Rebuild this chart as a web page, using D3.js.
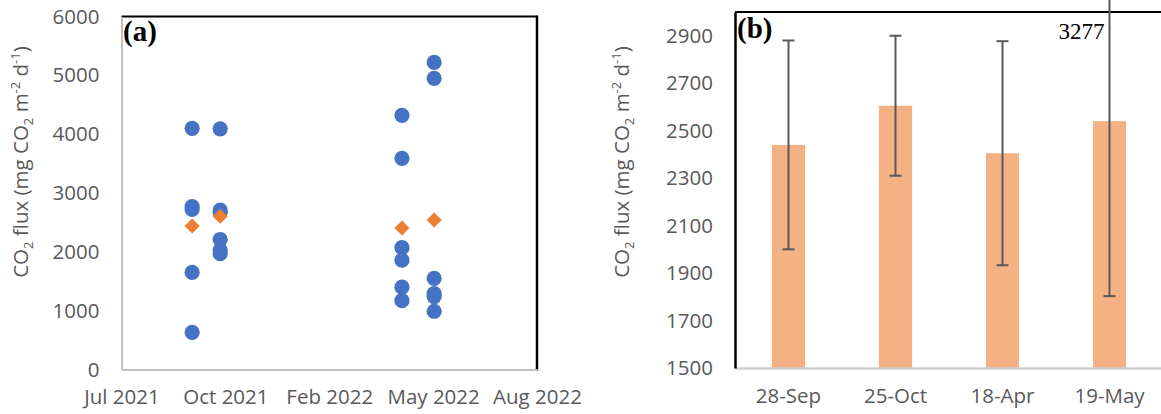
<!DOCTYPE html>
<html><head><meta charset="utf-8">
<script src="https://cdn.jsdelivr.net/npm/d3@7"></script>
<style>body{margin:0;background:#fff}svg{display:block}</style>
</head><body>
<svg id="c" width="1161" height="414"></svg>
<script>
// ---- data ----
const sampleDates = ["2021-09-28","2021-10-25","2022-04-18","2022-05-19"];
const fluxSep28 = [4100, 2770, 2720, 1650, 630];
const fluxOct25 = [4090, 2710, 2670, 2210, 2030, 1970];
const fluxApr18 = [4320, 3590, 2070, 1860, 1400, 1170];
const fluxMay19 = [5220, 4950, 1550, 1290, 1240, 990];
const meanFlux = [2440, 2605, 2405, 2540];
const errFlux = [440, 295, 472, 737];
const barCategories = ["28-Sep","25-Oct","18-Apr","19-May"];
const timeTickDates = ["2021-07-22","2021-10-30","2022-02-07","2022-05-18","2022-08-26"];
const yTicksA = [0,1000,2000,3000,4000,5000,6000];
const yTicksB = [1500,1700,1900,2100,2300,2500,2700,2900];
const overflowLabel = "3277";

const svg = d3.select("#c");
const parse = d3.utcParse("%Y-%m-%d");
const axisFont = "'Open Sans', sans-serif";
const gray = "#595959";
const fs = 20.5;

function yTitle(g, x, y){
  const t = g.append("text").attr("transform",`translate(${x},${y}) rotate(-90)`)
    .attr("text-anchor","middle").attr("font-family",axisFont).attr("font-size",fs).attr("fill",gray);
  t.append("tspan").text("CO");
  t.append("tspan").attr("font-size",13).attr("dy",5).text("2");
  t.append("tspan").attr("dy",-5).text(" flux (mg CO");
  t.append("tspan").attr("font-size",13).attr("dy",5).text("2");
  t.append("tspan").attr("dy",-5).text(" m");
  t.append("tspan").attr("font-size",13).attr("dy",-8).text("-2");
  t.append("tspan").attr("dy",8).text(" d");
  t.append("tspan").attr("font-size",13).attr("dy",-8).text("-1");
  t.append("tspan").attr("dy",8).text(")");
}

// ---- panel (a) ----
const A = {l:121.5, r:537, t:16.5, b:369.5};
const x = d3.scaleUtc().domain([parse(timeTickDates[0]), parse(timeTickDates[4])]).range([A.l, A.r]);
const yA = d3.scaleLinear().domain([0,6000]).range([A.b, A.t]);
const gA = svg.append("g");

gA.append("line").attr("x1",A.l).attr("x2",A.r).attr("y1",A.t).attr("y2",A.t).attr("stroke","#000").attr("stroke-width",2);
gA.append("line").attr("x1",A.r).attr("x2",A.r).attr("y1",A.t-1).attr("y2",A.b+1).attr("stroke","#000").attr("stroke-width",2.5);

const axA = gA.append("g").attr("transform",`translate(0,${A.b})`)
  .call(d3.axisBottom(x).tickValues(timeTickDates.map(parse)).tickFormat(d3.utcFormat("%b %Y")).tickSize(0).tickPadding(20));
axA.select(".domain").attr("stroke","#BFBFBF").attr("stroke-width",2);
axA.selectAll("text").attr("font-family",axisFont).attr("font-size",fs).attr("fill",gray);

const ayA = gA.append("g").attr("transform",`translate(${A.l},0)`)
  .call(d3.axisLeft(yA).tickValues(yTicksA).tickFormat(d3.format("d")).tickSize(0).tickPadding(22));
ayA.select(".domain").attr("stroke","#BFBFBF").attr("stroke-width",2);
ayA.selectAll("text").attr("font-family",axisFont).attr("font-size",fs).attr("fill",gray);

const groups = [fluxSep28, fluxOct25, fluxApr18, fluxMay19];
groups.forEach((vals,i)=>{
  gA.selectAll(null).data(vals).enter().append("circle")
    .attr("cx",x(parse(sampleDates[i]))).attr("cy",d=>yA(d)).attr("r",7.6).attr("fill","#4472C4");
});
gA.selectAll(".mean").data(meanFlux).enter().append("path")
  .attr("d",(d,i)=>{const cx=x(parse(sampleDates[i])), cy=yA(d), s=7.5;
     return `M${cx},${cy-s}L${cx+s},${cy}L${cx},${cy+s}L${cx-s},${cy}Z`;})
  .attr("fill","#ED7D31");

gA.append("text").attr("x",123).attr("y",41).attr("font-family","'Liberation Serif', serif")
  .attr("font-weight","bold").attr("font-size",29).attr("fill","#000").text("(a)");
yTitle(gA, 28, 162);

// ---- panel (b) ----
const B = {l:735, r:1163, t:12, b:368};
const xb = d3.scaleBand().domain(barCategories).range([B.l, B.r]).paddingInner(0.69).paddingOuter(0.345);
const yB = d3.scaleLinear().domain([1500,3000]).range([B.b, B.t]);
const gB = svg.append("g");

gB.selectAll(".bar").data(meanFlux).enter().append("rect")
  .attr("x",(d,i)=>xb(barCategories[i])).attr("width",xb.bandwidth())
  .attr("y",d=>yB(d)).attr("height",d=>B.b-yB(d)).attr("fill","#F4B183");

gB.append("line").attr("x1",B.l).attr("x2",B.r).attr("y1",B.t).attr("y2",B.t).attr("stroke","#000").attr("stroke-width",2);

const axB = gB.append("g").attr("transform",`translate(0,${B.b})`)
  .call(d3.axisBottom(xb).tickSize(0).tickPadding(20));
axB.select(".domain").attr("stroke","#D0D0D0").attr("stroke-width",2.5);
axB.selectAll("text").attr("font-family",axisFont).attr("font-size",fs).attr("fill",gray);

const ayB = gB.append("g").attr("transform",`translate(${B.l},0)`)
  .call(d3.axisLeft(yB).tickValues(yTicksB).tickFormat(d3.format("d")).tickSize(0).tickPadding(22));
ayB.select(".domain").attr("stroke","#000").attr("stroke-width",2.5);
ayB.selectAll("text").attr("font-family",axisFont).attr("font-size",fs).attr("fill",gray);

const eb = gB.selectAll(".err").data(meanFlux).enter().append("g")
  .attr("transform",(d,i)=>`translate(${xb(barCategories[i])+xb.bandwidth()/2},0)`);
eb.append("line").attr("y1",(d,i)=>yB(d+errFlux[i])).attr("y2",(d,i)=>yB(d-errFlux[i])).attr("stroke","#595959").attr("stroke-width",2);
eb.append("line").attr("x1",-6).attr("x2",6).attr("y1",(d,i)=>yB(d+errFlux[i])).attr("y2",(d,i)=>yB(d+errFlux[i])).attr("stroke","#595959").attr("stroke-width",2);
eb.append("line").attr("x1",-6).attr("x2",6).attr("y1",(d,i)=>yB(d-errFlux[i])).attr("y2",(d,i)=>yB(d-errFlux[i])).attr("stroke","#595959").attr("stroke-width",2);

gB.append("text").attr("x",xb(barCategories[3])+xb.bandwidth()/2-5).attr("y",39).attr("text-anchor","end")
  .attr("font-family","'Liberation Serif', serif").attr("font-size",23).attr("fill","#000").text(overflowLabel);

gB.append("text").attr("x",737).attr("y",38).attr("font-family","'Liberation Serif', serif")
  .attr("font-weight","bold").attr("font-size",29).attr("fill","#000").text("(b)");
yTitle(gB, 629, 162);
</script>
</body></html>
